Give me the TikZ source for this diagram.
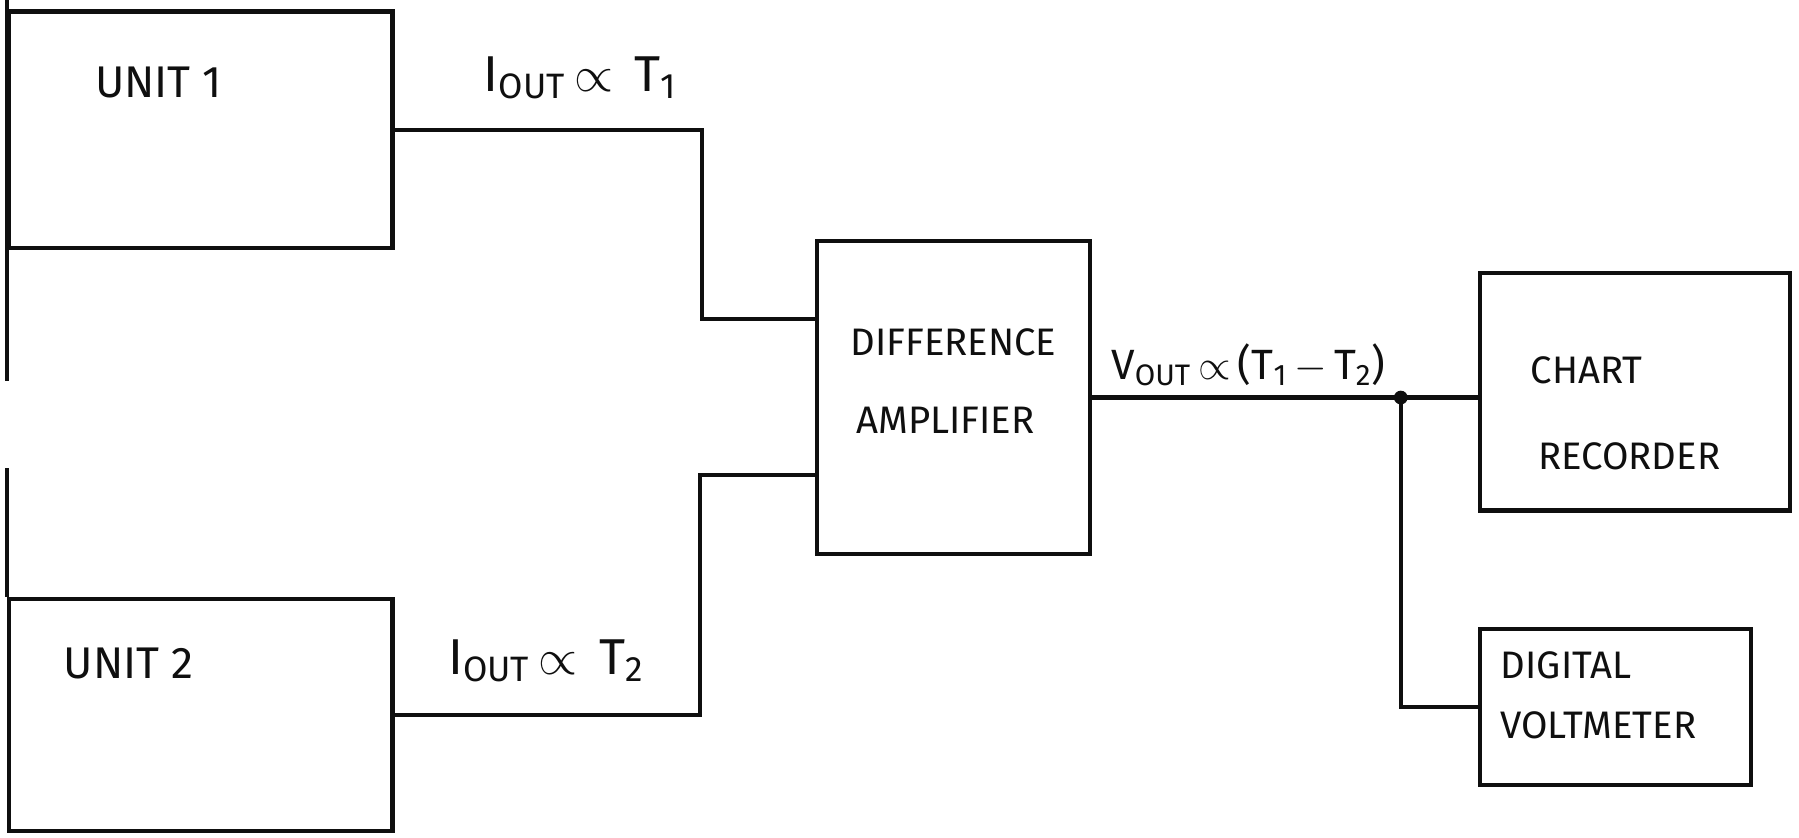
\documentclass[tikz,border=0pt]{standalone}
\usepackage{fontspec}
\setsansfont{Fira Sans}
\usetikzlibrary{positioning,calc}
\definecolor{ink}{RGB}{15,15,15}
\tikzset{
  block/.style={draw=ink,line width=2.1pt,inner sep=0pt},
  wire/.style={draw=ink,line width=2.1pt},
  caption/.style={text=ink,font=\sffamily\fontsize{#1}{#1}\selectfont},
  caption/.default=19,
  signal/.style={text=ink,font=\sffamily\fontsize{#1}{#1}\selectfont},
  signal/.default=25,
}

\begin{document}
\begin{tikzpicture}[x=0.2mm,y=-0.2mm]
  \useasboundingbox (0,0) rectangle (1568,730);
  % boxes
  \node[block,minimum width=66.8mm,minimum height=41.2mm] (unit1) at (175,113) {};
  \node[block,minimum width=66.8mm,minimum height=40.4mm] (unit2) at (175,623) {};
  \node[block,minimum width=47.6mm,minimum height=54.6mm] (amp) at (831,346.5) {};
  \node[block,minimum width=54mm,minimum height=41.4mm] (chart) at (1425,341.5) {};
  \node[block,minimum width=47.2mm,minimum height=27.2mm] (dvm) at (1408,616) {};
  % box texts
  \node[caption=22] (unit1txt) at (138,72) {UNIT 1};
  \node[caption=22] (unit2txt) at (112,578) {UNIT 2};
  \node[caption] (amptxt1) at (831,298) {DIFFERENCE};
  \node[caption] (amptxt2) at (824,366) {AMPLIFIER};
  \node[caption] (charttxt1) at (1383,323) {CHART};
  \node[caption] (charttxt2) at (1420,398) {RECORDER};
  \node[caption] (dvmtxt1) at (1365,580) {DIGITAL};
  \node[caption] (dvmtxt2) at (1393,632) {VOLTMETER};
  % signal labels
  \node[signal] (sig1) at (506,68) {I\textsubscript{OUT}\,$\propto$\, T\textsubscript{1}};
  \node[signal] (sig2) at (476,576) {I\textsubscript{OUT}\,$\propto$\, T\textsubscript{2}};
  \node[signal=21] (sigout) at (1088,318) {V\textsubscript{OUT}\,$\propto$\,(T\textsubscript{1}\,$-$\,T\textsubscript{2})};
  % wiring
  \coordinate (in1) at (612,278);
  \coordinate (in2) at (610,414);
  \draw[wire] (unit1.east) -| (in1) -- (in1 -| amp.west);
  \draw[wire] (unit2.east) -| (in2) -- (in2 -| amp.west);
  \draw[wire] (amp.east) -- (amp.east -| chart.west);
  \coordinate (tap) at ($(amp.east)!0.8!(amp.east -| chart.west)$);
  \fill[ink] (tap) circle (1.2mm);
  \draw[wire] (tap) |- (dvm.west);
  % left edges running on
  \draw[wire] ($(unit1.north west)+(0,-10)$) -- ($(unit1.south west)+(0,114)$);
  \draw[wire] (unit2.north west) -- ++(0,-112);
\end{tikzpicture}
\end{document}
